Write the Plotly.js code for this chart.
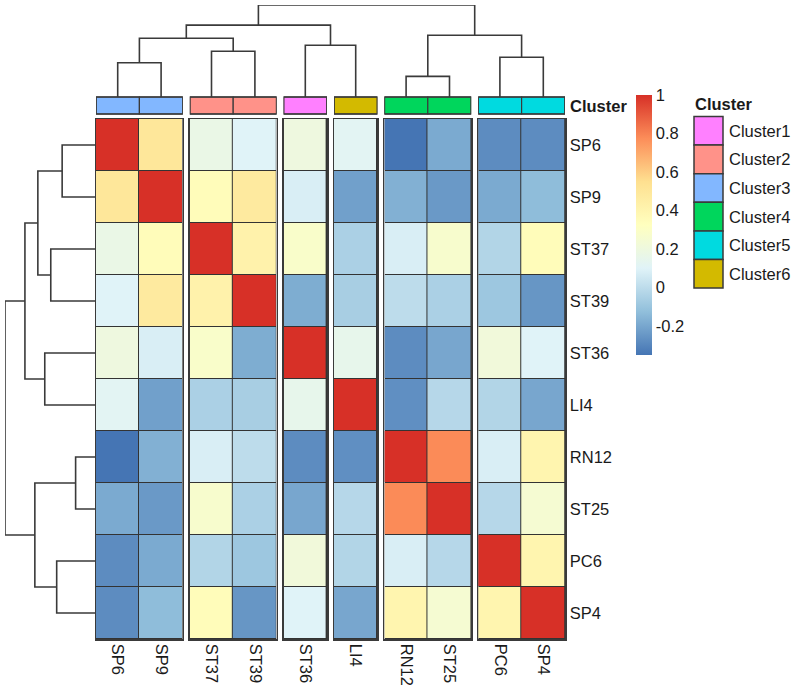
<!DOCTYPE html>
<html>
<head>
<meta charset="utf-8">
<script src="https://cdn.plot.ly/plotly-3.0.1.min.js"></script>
<style>html,body{margin:0;padding:0;background:#fff;}#chart{width:795px;height:689px;}</style>
</head>
<body>
<div id="chart"></div>
<script>
// ---------------- DATA ----------------
const labels = ['SP6', 'SP9', 'ST37', 'ST39', 'ST36', 'LI4', 'RN12', 'ST25', 'PC6', 'SP4'];

const rowSP6  = [ 1.00,  0.50,  0.17,  0.10,  0.20,  0.12, -0.35, -0.19, -0.28, -0.28];
const rowSP9  = [ 0.50,  1.00,  0.35,  0.48,  0.08, -0.22, -0.17, -0.24, -0.19, -0.13];
const rowST37 = [ 0.17,  0.35,  1.00,  0.42,  0.28, -0.05,  0.08,  0.27, -0.03,  0.35];
const rowST39 = [ 0.10,  0.48,  0.42,  1.00, -0.18, -0.06,  0.00, -0.05, -0.09, -0.25];
const rowST36 = [ 0.20,  0.08,  0.28, -0.18,  1.00,  0.15, -0.28, -0.20,  0.22,  0.10];
const rowLI4  = [ 0.12, -0.22, -0.05, -0.06,  0.15,  1.00, -0.27, -0.02, -0.03, -0.20];
const rowRN12 = [-0.35, -0.17,  0.08,  0.00, -0.28, -0.27,  1.00,  0.78,  0.08,  0.40];
const rowST25 = [-0.19, -0.24,  0.27, -0.05, -0.20, -0.02,  0.78,  1.00, -0.02,  0.25];
const rowPC6  = [-0.28, -0.19, -0.03, -0.09,  0.22, -0.03,  0.08, -0.02,  1.00,  0.40];
const rowSP4  = [-0.28, -0.13,  0.35, -0.25,  0.10, -0.20,  0.40,  0.25,  0.40,  1.00];
const corr = [rowSP6, rowSP9, rowST37, rowST39, rowST36, rowLI4, rowRN12, rowST25, rowPC6, rowSP4];

const colCluster = ['Cluster3', 'Cluster3', 'Cluster2', 'Cluster2', 'Cluster1', 'Cluster6', 'Cluster4', 'Cluster4', 'Cluster5', 'Cluster5'];
const clusterNames = ['Cluster1', 'Cluster2', 'Cluster3', 'Cluster4', 'Cluster5', 'Cluster6'];
const clusterColors = ['#FF80FF', '#FF9289', '#82B7FF', '#00D65C', '#00DAE0', '#D3BA00'];

// hierarchical clustering merges: [child A, child B, height]; 'mK' = result of merge K (1-based)
const dendroMerges = [
  ['SP6', 'SP9', 0.372],
  ['ST37', 'ST39', 0.497],
  ['m1', 'm2', 0.639],
  ['ST36', 'LI4', 0.563],
  ['m3', 'm4', 0.781],
  ['RN12', 'ST25', 0.224],
  ['PC6', 'SP4', 0.432],
  ['m6', 'm7', 0.672],
  ['m5', 'm8', 1.000]
];

const colorbarTickVals = [-0.2, 0, 0.2, 0.4, 0.6, 0.8, 1];
const colorbarTickText = ['-0.2', '0', '0.2', '0.4', '0.6', '0.8', '1'];
const zMin = -0.35, zMax = 1.0;

// ---------------- STYLE / GEOMETRY ----------------
const W = 795, H = 689;
const FONT = 'Arial, "Liberation Sans", sans-serif';
const TXT = '#1a1a1a';
const LINE = '#3a3a3a';
const HM_L = 96, HM_R = 565, HM_T = 119, HM_B = 639, GAP = 7;
const ANN_T = 97, ANN_B = 114;
const TOPD_T = 5, LEFTD_L = 5;
const px = x => x / W;
const py = y => 1 - y / H;

const palette = ['#4575B4', '#91BFDB', '#E0F3F8', '#FFFFBF', '#FEE090', '#FC8D59', '#D73027'];
const colorscale = palette.map((c, i) => [i / (palette.length - 1), c]);

// column groups = consecutive runs of the same cluster
const groups = [];
colCluster.forEach((c, i) => {
  if (groups.length && groups[groups.length - 1].name === c) groups[groups.length - 1].cols.push(i);
  else groups.push({name: c, cols: [i]});
});
const nCols = labels.length;
const cellW = (HM_R - HM_L - GAP * (groups.length - 1)) / nCols;
const colCenterPx = [];
let cursor = HM_L;
groups.forEach((g, gi) => {
  g.x0 = cursor;
  g.cols.forEach((c, k) => colCenterPx[c] = cursor + (k + 0.5) * cellW);
  cursor += g.cols.length * cellW;
  g.x1 = cursor;
  cursor += GAP;
});

const rowIdx = labels.map((_, i) => i);
const traces = [];
const layout = {
  width: W, height: H,
  margin: {l: 0, r: 0, t: 0, b: 0},
  paper_bgcolor: '#fff', plot_bgcolor: 'rgba(0,0,0,0)',
  showlegend: false,
  font: {family: FONT, color: TXT, size: 16.5},
  shapes: [], annotations: []
};

groups.forEach((g, gi) => {
  const s = gi === 0 ? '' : String(gi + 1);
  const cols = g.cols;
  traces.push({
    type: 'heatmap',
    x: cols, y: rowIdx,
    z: rowIdx.map(r => cols.map(c => corr[r][c])),
    xaxis: 'x' + s, yaxis: 'y' + s,
    colorscale: colorscale, zmin: zMin, zmax: zMax,
    xgap: 1, ygap: 1,
    hoverinfo: 'skip',
    showscale: gi === 0,
    colorbar: {
      x: px(636), xanchor: 'left', xpad: 0,
      y: py(95), yanchor: 'top', ypad: 0,
      len: 260, lenmode: 'pixels',
      thickness: 16, thicknessmode: 'pixels',
      outlinewidth: 0, ticks: '',
      tickvals: colorbarTickVals, ticktext: colorbarTickText,
      tickfont: {family: FONT, size: 16.5, color: TXT}
    }
  });
  const last = gi === groups.length - 1;
  layout['xaxis' + s] = {
    domain: [px(g.x0), px(g.x1)],
    range: [cols[0] - 0.5, cols[cols.length - 1] + 0.5],
    anchor: 'y' + s,
    showgrid: false, zeroline: false,
    showline: true, mirror: true, linecolor: LINE, linewidth: 1.5,
    ticks: '', tickangle: 90,
    tickvals: cols, ticktext: cols.map(c => labels[c]),
    tickfont: {family: FONT, size: 16.5, color: TXT},
    fixedrange: true
  };
  layout['yaxis' + s] = {
    domain: [py(HM_B), py(HM_T)],
    range: [labels.length - 0.5, -0.5],
    anchor: 'x' + s,
    showgrid: false, zeroline: false,
    showline: true, mirror: true, linecolor: LINE, linewidth: 1.5,
    ticks: '',
    side: last ? 'right' : 'left',
    showticklabels: last,
    tickvals: rowIdx, ticktext: labels,
    tickfont: {family: FONT, size: 16.5, color: TXT},
    fixedrange: true
  };
  // dark backing so the brick gaps form cell borders
  layout.shapes.push({
    type: 'rect', xref: 'x' + s, yref: 'y' + s, layer: 'below',
    x0: cols[0] - 0.5, x1: cols[cols.length - 1] + 0.5, y0: -0.5, y1: labels.length - 0.5,
    fillcolor: '#333', line: {width: 0}
  });
  // annotation bar cells
  cols.forEach(c => {
    layout.shapes.push({
      type: 'rect', xref: 'x' + s, yref: 'paper',
      x0: c - 0.5, x1: c + 0.5, y0: py(ANN_B), y1: py(ANN_T),
      fillcolor: clusterColors[clusterNames.indexOf(colCluster[c])],
      line: {color: LINE, width: 1.2}
    });
  });
  layout.shapes.push({
    type: 'rect', xref: 'x' + s, yref: 'paper',
    x0: cols[0] - 0.5, x1: cols[cols.length - 1] + 0.5, y0: py(ANN_B), y1: py(ANN_T),
    line: {color: LINE, width: 1.6}
  });
});

// ---------------- DENDROGRAMS ----------------
function dendroLines(leafPos) {
  const nodes = {};
  labels.forEach((l, i) => nodes[l] = {p: leafPos[i], h: 0});
  const pos = [], hei = [];
  dendroMerges.forEach((m, k) => {
    const a = nodes[m[0]], b = nodes[m[1]], h = m[2];
    pos.push(a.p, a.p, b.p, b.p, null);
    hei.push(a.h, h, h, b.h, null);
    nodes['m' + (k + 1)] = {p: (a.p + b.p) / 2, h: h};
  });
  return {pos, hei};
}
const maxH = Math.max(...dendroMerges.map(m => m[2]));

const topD = dendroLines(colCenterPx);
traces.push({
  type: 'scatter', mode: 'lines', x: topD.pos, y: topD.hei,
  xaxis: 'x7', yaxis: 'y7', line: {color: LINE, width: 1.6}, hoverinfo: 'skip'
});
const leftD = dendroLines(rowIdx);
traces.push({
  type: 'scatter', mode: 'lines', x: leftD.hei, y: leftD.pos,
  xaxis: 'x8', yaxis: 'y8', line: {color: LINE, width: 1.6}, hoverinfo: 'skip'
});
const hidden = {showgrid: false, zeroline: false, showticklabels: false, showline: false, ticks: '', fixedrange: true};
layout.xaxis7 = Object.assign({}, hidden, {domain: [px(HM_L), px(HM_R)], range: [HM_L, HM_R], anchor: 'y7'});
layout.yaxis7 = Object.assign({}, hidden, {domain: [py(ANN_T), py(TOPD_T)], range: [0, maxH], anchor: 'x7'});
layout.xaxis8 = Object.assign({}, hidden, {domain: [px(LEFTD_L), px(HM_L)], range: [maxH, 0], anchor: 'y8'});
layout.yaxis8 = Object.assign({}, hidden, {domain: [py(HM_B), py(HM_T)], range: [labels.length - 0.5, -0.5], anchor: 'x8'});

// ---------------- ANNOTATION NAME & LEGEND ----------------
layout.annotations.push({
  xref: 'paper', yref: 'paper', x: px(568), y: py(105.5), xanchor: 'left', yanchor: 'middle',
  text: '<b>Cluster</b>', showarrow: false, font: {family: FONT, size: 16.5, color: TXT}
});
const LEG_X0 = 694, LEG_X1 = 723, LEG_T = 116.5, LEG_H = 28.6;
layout.annotations.push({
  xref: 'paper', yref: 'paper', x: px(LEG_X0 - 1), y: py(104), xanchor: 'left', yanchor: 'middle',
  text: '<b>Cluster</b>', showarrow: false, font: {family: FONT, size: 16.5, color: TXT}
});
clusterNames.forEach((n, i) => {
  const y0 = LEG_T + i * LEG_H, y1 = y0 + LEG_H;
  layout.shapes.push({
    type: 'rect', xref: 'paper', yref: 'paper',
    x0: px(LEG_X0), x1: px(LEG_X1), y0: py(y1), y1: py(y0),
    fillcolor: clusterColors[i], line: {color: LINE, width: 1.5}
  });
  layout.annotations.push({
    xref: 'paper', yref: 'paper', x: px(LEG_X1 + 4), y: py((y0 + y1) / 2), xanchor: 'left', yanchor: 'middle',
    text: n, showarrow: false, font: {family: FONT, size: 16.5, color: TXT}
  });
});

Plotly.newPlot('chart', traces, layout, {displayModeBar: false, staticPlot: true});
</script>
</body>
</html>
